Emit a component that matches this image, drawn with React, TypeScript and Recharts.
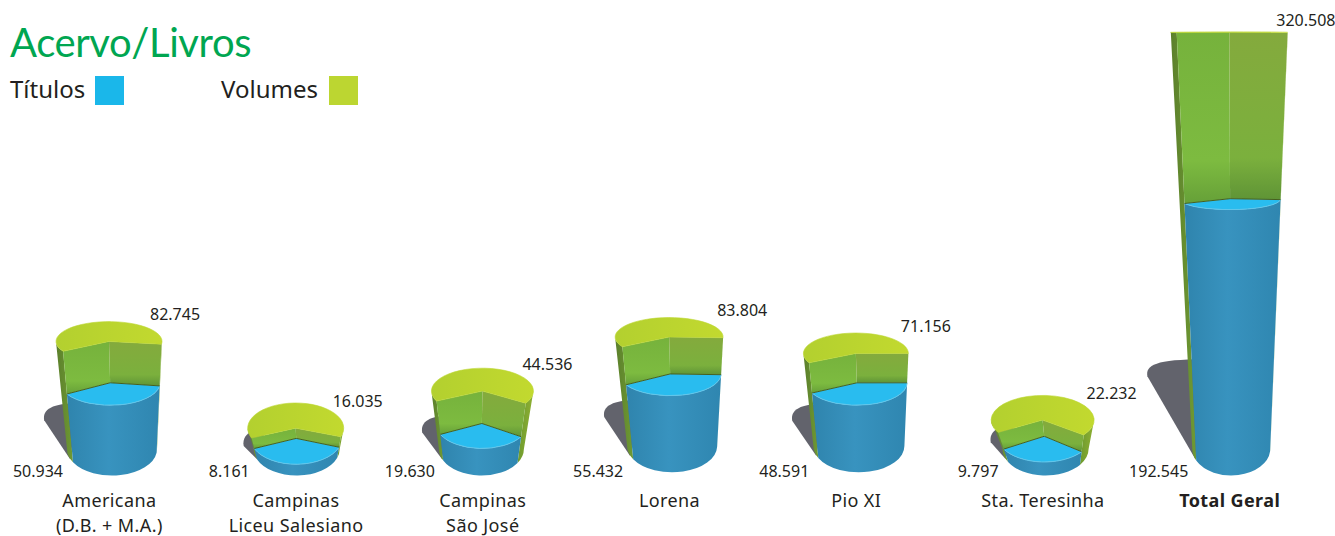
import { BarChart, Bar, XAxis, YAxis, LabelList } from 'recharts';

const categories = [
  'Americana\n(D.B. + M.A.)',
  'Campinas\nLiceu Salesiano',
  'Campinas\nSão José',
  'Lorena',
  'Pio XI',
  'Sta. Teresinha',
  'Total Geral',
];
const tituloValues = [50934, 8161, 19630, 55432, 48591, 9797, 192545];
const volumeValues = [82745, 16035, 44536, 83804, 71156, 22232, 320508];

// look of each cylinder, nothing here is data
const baseRadius = [45, 43, 42.5, 45, 45.5, 43, 39];
const topRadius = [53, 48, 51, 54, 52.5, 51.5, 58.5];
const baseLean = [3, 1, -1, 3, 3, 3, 2];
const baseShift = [0, 0, 0, -3, -3, 0, 0];
const cutRight = [8, 20, 32, 2, 0, 37, 5];
const cutLeft = [150, 157, 154, 150, 153, 150, 154];
const labelNudge = [-2, -6, -3, 5, 2, 1, 4];

const data = categories.map((name, i) => ({
  name,
  titulos: tituloValues[i],
  volumes: volumeValues[i],
}));

const FONT = '"Noto Sans", sans-serif';
const INK = '#231f20';
const GREEN_TOP = '#bcd631';
const BLUE_TOP = '#29bcef';

const rad = (a: number) => (a * Math.PI) / 180;
const thousands = (v: number) => String(v).replace(/\B(?=(\d{3})+$)/g, '.');

// perspective: ellipses get flatter towards the top of the page
const flat = (y: number) => Math.max(0.5, (y - 25) * 0.0625);

function geometry(index: number, centerX: number, zeroY: number, pxPerUnit: number) {
  const baseY = zeroY + baseShift[index];
  const topY = baseY - volumeValues[index] * pxPerUnit;
  const level = (y: number) => {
    const t = (baseY - y) / (baseY - topY);
    return {
      y,
      cx: centerX + baseLean[index] * (1 - t),
      rx: baseRadius[index] + (topRadius[index] - baseRadius[index]) * t,
      ry: flat(y),
    };
  };
  return {
    baseY,
    top: level(topY),
    base: level(baseY),
    blue: level(baseY - tituloValues[index] * pxPerUnit),
    aL: cutLeft[index],
    aR: cutRight[index],
  };
}

type Level = { y: number; cx: number; rx: number; ry: number };
const px = (l: Level, a: number) => (l.cx + l.rx * Math.cos(rad(a))).toFixed(1);
const py = (l: Level, a: number) => (l.y + l.ry * Math.sin(rad(a))).toFixed(1);
const pt = (l: Level, a: number) => `${px(l, a)} ${py(l, a)}`;

// arc along the rim of a level, sweep 1 = clockwise on screen
const arc = (l: Level, to: number, large: number, sweep: number) =>
  `A ${l.rx.toFixed(1)} ${l.ry.toFixed(1)} 0 ${large} ${sweep} ${pt(l, to)}`;

function VolumeShape(props: any) {
  const { x, y, width, height, index, value } = props;
  const g = geometry(index, x + width / 2, y + height, height / value);
  const { top, blue, base, aL, aR } = g;
  const h = base.y - top.y;
  const rise = 4.4 * Math.sqrt(h);
  const reach = rise * 0.5;
  const lx = base.cx - base.rx;
  const tipY = g.baseY - rise;

  const shadow = `M ${lx + 3} ${g.baseY + 10} L ${lx - reach} ${tipY + 17}
    C ${lx - reach - 2} ${tipY + 6} ${lx - reach + 8} ${tipY} ${lx + 12} ${tipY} Z`;

  return (
    <g>
      <path d={shadow} fill="#62636c" />
      <path
        d={`M ${pt(top, 180)} ${arc(top, aL, 0, 0)} L ${pt(base, aL)} ${arc(base, 180, 0, 1)} Z`}
        fill="url(#wallLeft)"
      />
      <path
        d={`M ${pt(top, aR)} ${arc(top, 0, 0, 0)} L ${pt(base, 0)} ${arc(base, aR, 0, 1)} Z`}
        fill="url(#wallRight)"
      />
      <path
        d={`M ${top.cx} ${top.y} L ${pt(top, aL)} L ${pt(blue, aL)} L ${blue.cx} ${blue.y} Z`}
        fill="url(#innerLeft)"
      />
      <path
        d={`M ${top.cx} ${top.y} L ${pt(top, aR)} L ${pt(blue, aR)} L ${blue.cx} ${blue.y} Z`}
        fill="url(#innerRight)"
      />
      <path
        d={`M ${top.cx} ${top.y} L ${pt(top, aL)} ${arc(top, aR, 1, 1)} Z`}
        fill="url(#topFace)"
        stroke={GREEN_TOP}
        strokeWidth={0.6}
      />
    </g>
  );
}

function TituloShape(props: any) {
  const { x, y, width, height, index, value } = props;
  const g = geometry(index, x + width / 2, y + height, height / value);
  const { blue, base, aL, aR } = g;
  return (
    <g>
      <path
        d={`M ${pt(blue, aL)} L ${pt(base, aL)} ${arc(base, aR, 0, 0)} L ${pt(blue, aR)} ${arc(blue, aL, 0, 1)} Z`}
        fill="url(#blueWall)"
      />
      <path
        d={`M ${blue.cx} ${blue.y} L ${pt(blue, aR)} ${arc(blue, aL, 0, 1)} Z`}
        fill={BLUE_TOP}
      />
      <path d={`M ${pt(blue, aR)} ${arc(blue, aL, 0, 1)}`} fill="none" stroke="#62c6ea" strokeWidth={1} />
      <path
        d={`M ${pt(blue, aL)} L ${blue.cx} ${blue.y} L ${pt(blue, aR)}`}
        fill="none"
        stroke="#45601f"
        strokeWidth={1}
      />
    </g>
  );
}

function VolumeLabel(props: any) {
  const { value, index } = props;
  const box = props.viewBox ?? props;
  const g = geometry(index, box.x + box.width / 2, box.y + box.height, box.height / value);
  return (
    <text
      x={g.top.cx + 43 + labelNudge[index]}
      y={Math.max(20, g.top.y - 27) + 6}
      fontFamily={FONT}
      fontSize={16}
      fill={INK}
    >
      {thousands(value)}
    </text>
  );
}

function TituloLabel(props: any) {
  const { value, index } = props;
  const box = props.viewBox ?? props;
  const g = geometry(index, box.x + box.width / 2, box.y + box.height, box.height / value);
  return (
    <text
      x={g.base.cx - g.base.rx - 4}
      y={477}
      textAnchor="end"
      fontFamily={FONT}
      fontSize={16}
      fill={INK}
    >
      {thousands(value)}
    </text>
  );
}

function CategoryTick({ x, y, payload }: any) {
  const lines = String(payload.value).split('\n');
  const bold = payload.value === 'Total Geral';
  return (
    <text
      x={x}
      y={y}
      textAnchor="middle"
      fontFamily={FONT}
      fontSize={18}
      letterSpacing={0.4}
      fontWeight={bold ? 700 : 400}
      fill={INK}
    >
      {lines.map((line, i) => (
        <tspan key={line} x={x} dy={i === 0 ? 50 : 24.6}>
          {line}
        </tspan>
      ))}
    </text>
  );
}

export default function App() {
  return (
    <div style={{ position: 'absolute', left: 0, top: 0, width: 1335, height: 536, fontFamily: FONT }}>
      <BarChart
        width={1335}
        height={536}
        data={data}
        barSize={90}
        barGap={-90}
        margin={{ top: 7, right: 12, bottom: 7, left: 16 }}
      >
        <defs>
          <linearGradient id="wallLeft" x1="0" y1="0" x2="1" y2="0">
            <stop offset="0" stopColor="#5b7f2b" />
            <stop offset="1" stopColor="#6f9a33" />
          </linearGradient>
          <linearGradient id="wallRight" x1="0" y1="0" x2="1" y2="0">
            <stop offset="0" stopColor="#6d9a2e" />
            <stop offset="1" stopColor="#8fb033" />
          </linearGradient>
          <linearGradient id="innerLeft" x1="0" y1="0" x2="0" y2="1">
            <stop offset="0" stopColor="#76b23c" />
            <stop offset="0.75" stopColor="#7dbb40" />
            <stop offset="1" stopColor="#66a038" />
          </linearGradient>
          <linearGradient id="innerRight" x1="0" y1="0" x2="0" y2="1">
            <stop offset="0" stopColor="#84aa3d" />
            <stop offset="0.75" stopColor="#7bb03d" />
            <stop offset="1" stopColor="#5f9436" />
          </linearGradient>
          <linearGradient id="topFace" x1="0" y1="0" x2="1" y2="0">
            <stop offset="0" stopColor="#b3d02f" />
            <stop offset="1" stopColor="#c2d92f" />
          </linearGradient>
          <linearGradient id="blueWall" x1="0" y1="0" x2="1" y2="0">
            <stop offset="0" stopColor="#2f84ad" />
            <stop offset="0.45" stopColor="#3893bf" />
            <stop offset="1" stopColor="#2f86b0" />
          </linearGradient>
        </defs>
        <XAxis
          dataKey="name"
          height={80}
          axisLine={false}
          tickLine={false}
          interval={0}
          tick={CategoryTick}
        />
        <YAxis hide domain={[0, 340000]} />
        <Bar dataKey="volumes" shape={VolumeShape} isAnimationActive={false}>
          <LabelList dataKey="volumes" content={VolumeLabel} />
        </Bar>
        <Bar dataKey="titulos" shape={TituloShape} isAnimationActive={false}>
          <LabelList dataKey="titulos" content={TituloLabel} />
        </Bar>
      </BarChart>

      <div
        style={{
          position: 'absolute',
          left: 10,
          top: 12,
          fontSize: 40,
          letterSpacing: -0.4,
          lineHeight: '60px',
          color: '#00a651',
          fontFamily: 'Lato',
        }}
      >
        Acervo/Livros
      </div>
      <div style={{ position: 'absolute', left: 10, top: 72, fontSize: 24, lineHeight: '34px', color: INK }}>
        Títulos
      </div>
      <div style={{ position: 'absolute', left: 95, top: 76, width: 29, height: 29, background: '#1ab7ea' }} />
      <div style={{ position: 'absolute', left: 221, top: 72, fontSize: 24, lineHeight: '34px', color: INK }}>
        Volumes
      </div>
      <div style={{ position: 'absolute', left: 329, top: 76, width: 29, height: 29, background: GREEN_TOP }} />
    </div>
  );
}
